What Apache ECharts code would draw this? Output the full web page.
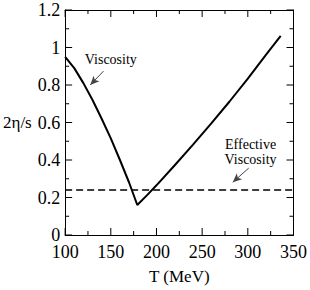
<!DOCTYPE html>
<html><head><meta charset="utf-8">
<script src="https://cdn.jsdelivr.net/npm/echarts@6/dist/echarts.min.js"></script>
<style>html,body{margin:0;padding:0;background:#fff}#c{width:310px;height:290px}#c text{font-family:"Liberation Serif",serif !important}</style>
</head><body><div id="c"></div>
<script>
const viscT = [100, 110, 120, 130, 140, 150, 160, 170, 179, 190, 200, 220, 240, 260, 280, 300, 320, 336];
const viscV = [0.95, 0.89, 0.81, 0.72, 0.62, 0.515, 0.40, 0.28, 0.16, 0.214, 0.265, 0.372, 0.482, 0.595, 0.712, 0.834, 0.962, 1.062];
const effT = [100, 350];
const effV = [0.24, 0.24];
const xTicks = [100, 150, 200, 250, 300, 350];
const xMinorTicks = [125, 175, 225, 275, 325];
const yTicks = [0, 0.2, 0.4, 0.6, 0.8, 1, 1.2];
const yMinorTicks = [0.1, 0.3, 0.5, 0.7, 0.9, 1.1];
const annotations = [
  {name: 'Viscosity', coord: [150, 0.935]},
  {name: 'Effective', coord: [303, 0.482]},
  {name: 'Viscosity', coord: [303, 0.402]}
];
const arrows = [
  [[142, 0.874], [127.5, 0.80]],
  [[301, 0.357], [283.5, 0.281]]
];

const font = 'Liberation Serif';
const xr = [100, 350], yr = [0, 1.2];
const chart = echarts.init(document.getElementById('c'), null, {renderer: 'svg'});

function plainAxis(range, interval, extra) {
  return Object.assign({
    type: 'value', min: range[0], max: range[1], interval: interval,
    axisLine: {show: true, onZero: false, lineStyle: {color: '#000', width: 1}},
    axisTick: {show: false},
    axisLabel: {show: false},
    splitLine: {show: false}
  }, extra || {});
}

// tick marks drawn inward from the four frame edges, placed by the axes' own scales
const tickData = []
  .concat(xTicks.map(v => [v, 0]))
  .concat(xMinorTicks.map(v => [v, 1]))
  .concat(yTicks.map(v => [v, 2]))
  .concat(yMinorTicks.map(v => [v, 3]));

function renderTick(params, api) {
  const v = api.value(0), kind = api.value(1);
  const len = (kind === 0 || kind === 2) ? 7 : 4;
  const st = {stroke: '#000', lineWidth: 1};
  let a, b;
  if (kind < 2) {
    a = api.coord([v, yr[0]]); b = api.coord([v, yr[1]]);
    return {type: 'group', children: [
      {type: 'line', shape: {x1: a[0], y1: a[1], x2: a[0], y2: a[1] - len}, style: st},
      {type: 'line', shape: {x1: b[0], y1: b[1], x2: b[0], y2: b[1] + len}, style: st}
    ]};
  }
  a = api.coord([xr[0], v]); b = api.coord([xr[1], v]);
  return {type: 'group', children: [
    {type: 'line', shape: {x1: a[0], y1: a[1], x2: a[0] + len, y2: a[1]}, style: st},
    {type: 'line', shape: {x1: b[0], y1: b[1], x2: b[0] - len, y2: b[1]}, style: st}
  ]};
}

chart.setOption({
  animation: false,
  textStyle: {fontFamily: font},
  grid: {left: 58, right: 13, top: 10, bottom: 41},
  xAxis: [
    plainAxis(xr, 50, {position: 'bottom',
      name: 'T (MeV)', nameLocation: 'middle', nameGap: 33,
      nameTextStyle: {fontFamily: font, fontSize: 17, color: '#000'},
      axisLabel: {show: true, fontFamily: font, fontSize: 18, color: '#000', margin: 8}}),
    plainAxis(xr, 50, {position: 'top'})
  ],
  yAxis: [
    plainAxis(yr, 0.2, {position: 'left',
      name: '2η/s', nameLocation: 'middle', nameRotate: 0, nameGap: 31,
      nameTextStyle: {fontFamily: font, fontSize: 17, color: '#000'},
      axisLabel: {show: true, fontFamily: font, fontSize: 18, color: '#000', margin: 5,
        formatter: v => { const t = yTicks.find(y => Math.abs(y - v) < 1e-9); return t === undefined ? '' : String(t); }}}),
    plainAxis(yr, 0.2, {position: 'right'})
  ],
  series: [
    {type: 'line', data: viscT.map((t, i) => [t, viscV[i]]), symbol: 'none',
      lineStyle: {color: '#000', width: 2}, z: 3,
      markPoint: {symbol: 'circle', symbolSize: 0, silent: true,
        label: {show: true, position: 'inside', formatter: '{b}', fontFamily: font, fontSize: 14, color: '#000'},
        data: annotations.map(a => ({name: a.name, coord: a.coord}))}},
    {type: 'line', data: effT.map((t, i) => [t, effV[i]]), symbol: 'none',
      lineStyle: {color: '#000', width: 1.5, type: [7, 4]}, z: 2,
      markLine: {silent: true, symbol: ['none', 'arrow'], symbolSize: [6, 9],
        lineStyle: {color: '#444', width: 1, type: 'solid'}, label: {show: false},
        data: arrows.map(a => [{coord: a[0]}, {coord: a[1]}])}},
    {type: 'custom', renderItem: renderTick, data: tickData, silent: true, clip: false, z: 4}
  ]
});
</script></body></html>
